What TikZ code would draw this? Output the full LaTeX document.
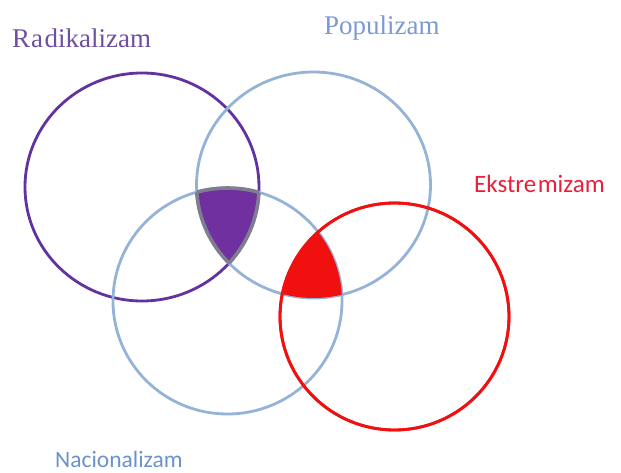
\documentclass[tikz,border=0pt]{standalone}
\usepackage{fontspec}
\setmainfont{Liberation Serif}
\newfontfamily\serf{Liberation Serif}
\newfontfamily\calib{Carlito}
\definecolor{purpleline}{HTML}{6232A0}
\definecolor{purplefill}{HTML}{7030A0}
\definecolor{blueline}{HTML}{95B3D7}
\definecolor{redline}{HTML}{F01010}
\definecolor{purpletext}{HTML}{6F4FA0}
\definecolor{bluetext}{HTML}{7B9ACF}
\definecolor{redtext}{HTML}{E8203A}
\definecolor{natext}{HTML}{6A92CC}
\definecolor{borderg}{HTML}{7E7E8E}
\begin{document}
\begin{tikzpicture}[x=1pt,y=-1pt,
  ring/.style={line width=2.8pt},
  lbl/.style={inner sep=0pt, anchor=base west}]
\useasboundingbox (0,0) rectangle (621,473);
\def\purp{(142,187) ellipse [x radius=117pt, y radius=114pt]}
\def\topb{(313.5,185) ellipse [x radius=117pt, y radius=113pt]}
\def\botb{(227.5,301) ellipse [x radius=114.5pt, y radius=113pt]}
\def\redc{(394.5,316.5) ellipse [x radius=114.5pt, y radius=113.5pt]}
% circles
\draw[ring, draw=purpleline] \purp;
\draw[ring, draw=blueline] \topb;
\draw[ring, draw=blueline] \botb;
\draw[ring, draw=redline] \redc;
% purple region: purple & top blue & bottom blue
\begin{scope}
  \clip \purp; \clip \topb;
  \fill[purplefill] \botb;
  \draw[borderg, line width=3.6pt] \botb;
\end{scope}
\begin{scope}
  \clip \purp; \clip \botb;
  \draw[borderg, line width=3.6pt] \topb;
\end{scope}
\begin{scope}
  \clip \topb; \clip \botb;
  \draw[borderg, line width=3.6pt] \purp;
\end{scope}
% red region: red & top blue & bottom blue
\begin{scope}
  \clip \redc; \clip \topb;
  \fill[redline] \botb;
\end{scope}
\draw[ring, draw=redline] \redc;
% labels
\node[lbl, text=purpletext, font=\serf\fontsize{27}{27}\selectfont] (rad) at (12,48) {R\kern1pt a\kern1.5pt dikalizam};
\node[lbl, text=bluetext, font=\serf\fontsize{27}{27}\selectfont] (pop) at (324,35) {Populizam};
\node[lbl, text=redtext, font=\calib\fontsize{25}{25}\selectfont] (eks) at (474,193) {Ekstre\kern1.5pt mizam};
\node[lbl, text=natext, font=\calib\fontsize{23.5}{23.5}\selectfont] (nac) at (55,467) {Nacionalizam};
\end{tikzpicture}
\end{document}
